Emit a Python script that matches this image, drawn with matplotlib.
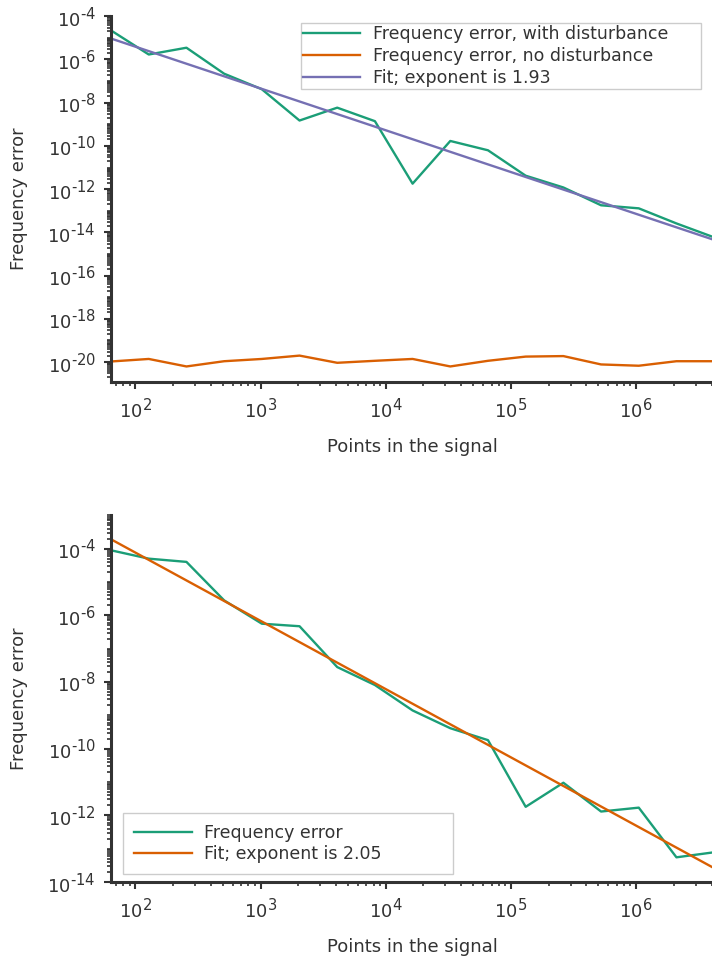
import matplotlib
matplotlib.use("Agg")
import matplotlib.pyplot as plt
import matplotlib.ticker as mticker
import matplotlib._mathtext as mathtext_impl
import numpy as np

# Signal lengths: 2^6 ... 2^22
points = [64, 128, 256, 512, 1024, 2048, 4096, 8192, 16384, 32768, 65536,
          131072, 262144, 524288, 1048576, 2097152, 4194304]

# Top panel
err_disturb = [2.2e-5, 1.7e-6, 3.5e-6, 2.2e-7, 4.2e-8, 1.5e-9, 5.9e-9, 1.4e-9,
               1.8e-12, 1.7e-10, 6.3e-11, 4.2e-12, 1.2e-12, 1.8e-13, 1.3e-13,
               2.6e-14, 5.9e-15]
err_clean = [1.07e-20, 1.4e-20, 6.3e-21, 1.1e-20, 1.4e-20, 2.0e-20, 9.3e-21,
             1.15e-20, 1.4e-20, 6.3e-21, 1.15e-20, 1.8e-20, 1.9e-20, 7.8e-21,
             6.8e-21, 1.1e-20, 1.1e-20]
fit1_x = [64, 4194304]
fit1_y = [9.3e-6, 4.5e-15]

# Bottom panel
err_single = [8.9e-5, 5.0e-5, 4.0e-5, 2.8e-6, 5.6e-7, 4.7e-7, 2.8e-8, 8.1e-9,
              1.4e-9, 4.1e-10, 1.8e-10, 1.8e-12, 9.5e-12, 1.3e-12, 1.7e-12,
              5.5e-14, 7.8e-14]
fit2_x = [64, 4194304]
fit2_y = [1.9e-4, 2.6e-14]

green, orange, purple = "#1b9e77", "#d95f02", "#7570b3"
txt = "#333333"

# exponents in the tick labels are only slightly smaller than the base
mathtext_impl.SHRINK_FACTOR = 0.82

plt.rcParams.update({
    "font.family": "DejaVu Sans",
    "font.size": 13,
    "mathtext.default": "regular",
    "text.color": txt,
    "axes.labelcolor": txt,
    "xtick.color": "#333333",
    "ytick.color": "#333333",
    "xtick.labelcolor": txt,
    "ytick.labelcolor": txt,
    "axes.edgecolor": "#333333",
    "axes.linewidth": 2.2,
    "xtick.major.size": 5,
    "ytick.major.size": 5,
    "xtick.minor.size": 3,
    "ytick.minor.size": 3,
    "xtick.major.width": 1.5,
    "ytick.major.width": 1.5,
    "xtick.minor.width": 1.2,
    "ytick.minor.width": 1.2,
    "legend.edgecolor": "#cccccc",
    "legend.fancybox": False,
})


def pow10(v, pos):
    e = int(round(np.log10(v)))
    s = str(e).replace("-", "\u2010")
    return r"$10^{%s}$" % s


fig = plt.figure(figsize=(7.12, 9.56), dpi=100)
ax1 = fig.add_axes([0.156, 0.6004, 0.847, 0.3826])
ax2 = fig.add_axes([0.156, 0.0774, 0.847, 0.3836])

lw = 1.7
ax1.plot(points, err_disturb, color=green, lw=lw, label="Frequency error, with disturbance")
ax1.plot(points, err_clean, color=orange, lw=lw, label="Frequency error, no disturbance")
ax1.plot(fit1_x, fit1_y, color=purple, lw=lw, label="Fit; exponent is 1.93")
ax1.set_ylim(1.2e-21, 1e-4)

ax2.plot(points, err_single, color=green, lw=lw, label="Frequency error")
ax2.plot(fit2_x, fit2_y, color=orange, lw=lw, label="Fit; exponent is 2.05")
ax2.set_ylim(1e-14, 1e-3)

for ax in (ax1, ax2):
    ax.set_xscale("log")
    ax.set_yscale("log")
    ax.set_xlim(64, 4194304)
    ax.spines["top"].set_visible(False)
    ax.spines["right"].set_visible(False)
    ax.set_xlabel("Points in the signal", labelpad=12)
    ax.set_ylabel("Frequency error", labelpad=14)
    ax.tick_params(which="major", pad=6)
    ax.yaxis.set_major_locator(mticker.LogLocator(base=100, numticks=30))
    ax.yaxis.set_minor_locator(mticker.LogLocator(base=10, subs=np.arange(1, 10), numticks=30))
    ax.yaxis.set_minor_formatter(mticker.NullFormatter())
    ax.xaxis.set_minor_formatter(mticker.NullFormatter())
    ax.xaxis.set_major_formatter(mticker.FuncFormatter(pow10))
    ax.yaxis.set_major_formatter(mticker.FuncFormatter(pow10))

ax1.legend(loc="upper left", bbox_to_anchor=(301 / 712, 1 - 23 / 956 - 0.01, 400 / 712, 0.01),
           bbox_transform=fig.transFigure, mode="expand", borderaxespad=0,
           fontsize=12.5, borderpad=0.12, labelspacing=0.22, handlelength=3.3,
           handletextpad=0.7, framealpha=1)
ax2.legend(loc="lower left", bbox_to_anchor=(123 / 712, 82 / 956, 330 / 712, 0.01),
           bbox_transform=fig.transFigure, mode="expand", borderaxespad=0,
           fontsize=12.5, borderpad=0.65, labelspacing=0.15, handlelength=3.3,
           handletextpad=0.7, framealpha=1)

fig.savefig("out.png", dpi=100)
